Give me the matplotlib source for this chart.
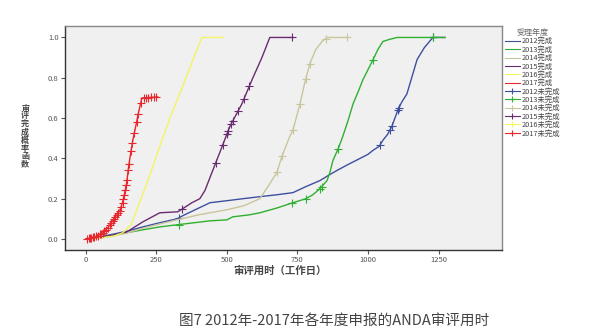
import numpy as np
import matplotlib
matplotlib.use('Agg')
import matplotlib.pyplot as plt
from matplotlib.lines import Line2D

plt.rcParams['font.family'] = ['Noto Sans CJK SC', 'DejaVu Sans']

years = ['2012', '2013', '2014', '2015', '2016', '2017']
colors = ['#3d4f9f', '#2fb02f', '#c9c59c', '#6a2c70', '#f2f562', '#e8262e']

# KM curves (days, completion probability)
days_2012 = [0, 50, 100, 150, 202, 260, 323, 350, 380, 410, 440, 500, 557, 617, 680, 734, 780, 830,
             865, 890, 930, 972, 1000, 1018, 1040, 1053, 1070, 1085, 1106, 1120, 1138, 1155, 1174, 1200, 1230, 1273]
prob_2012 = [0, 0.01, 0.025, 0.04, 0.06, 0.08, 0.10, 0.12, 0.14, 0.16, 0.18, 0.19, 0.20, 0.21, 0.22, 0.23, 0.26, 0.29,
             0.32, 0.34, 0.37, 0.40, 0.42, 0.44, 0.46, 0.49, 0.52, 0.56, 0.64, 0.68, 0.72, 0.80, 0.89, 0.95, 1.0, 1.0]
cens_2012 = [330, 1043, 1078, 1085, 1106, 1110, 1232]

days_2013 = [0, 60, 120, 200, 262, 320, 380, 440, 500, 521, 580, 617, 680, 734, 780, 805, 830, 855, 865,
             876, 895, 911, 930, 947, 965, 982, 1000, 1018, 1035, 1053, 1075, 1103, 1273]
prob_2013 = [0, 0.01, 0.025, 0.045, 0.06, 0.07, 0.08, 0.09, 0.095, 0.11, 0.12, 0.13, 0.155, 0.18, 0.20, 0.22, 0.25,
             0.29, 0.33, 0.39, 0.45, 0.51, 0.59, 0.67, 0.73, 0.79, 0.84, 0.89, 0.94, 0.98, 0.99, 1.0, 1.0]
cens_2013 = [330, 730, 780, 830, 836, 894, 1018, 1232]

days_2014 = [0, 80, 145, 220, 323, 400, 500, 560, 617, 650, 677, 695, 723, 734, 759, 775, 794, 815, 837, 855, 929]
prob_2014 = [0, 0.01, 0.03, 0.06, 0.095, 0.12, 0.145, 0.165, 0.20, 0.27, 0.33, 0.41, 0.51, 0.54, 0.67, 0.77,
             0.87, 0.94, 0.98, 1.0, 1.0]
cens_2014 = [677, 695, 734, 759, 780, 794, 850, 925]

days_2015 = [0, 50, 100, 145, 202, 262, 326, 376, 404, 422, 447, 475, 511, 553, 589, 624, 652, 734]
prob_2015 = [0, 0.01, 0.02, 0.035, 0.085, 0.13, 0.135, 0.18, 0.20, 0.24, 0.33, 0.43, 0.56, 0.67, 0.79, 0.90, 1.0, 1.0]
cens_2015 = [340, 460, 485, 500, 505, 515, 520, 540, 560, 580, 730]

days_2016 = [0, 50, 100, 130, 160, 190, 220, 252, 298, 344, 380, 411, 486]
prob_2016 = [0, 0.005, 0.015, 0.03, 0.07, 0.18, 0.29, 0.42, 0.60, 0.76, 0.89, 1.0, 1.0]
cens_2016 = []

days_2017 = [0, 20, 40, 60, 80, 100, 120, 130, 138, 145, 149, 156, 163, 168, 174, 180, 184, 192, 199, 255]
prob_2017 = [0, 0.005, 0.015, 0.03, 0.06, 0.10, 0.14, 0.18, 0.23, 0.28, 0.33, 0.40, 0.46, 0.50, 0.54, 0.58,
             0.61, 0.66, 0.70, 0.705]
cens_2017 = [5, 10, 15, 20, 25, 30, 35, 42, 50, 55, 60, 65, 70, 78, 85, 90, 95, 100, 105, 110, 115, 120, 125,
             130, 133, 136, 140, 143, 146, 150, 153, 160, 165, 172, 180, 186, 195, 205, 212, 220, 230, 240, 250]

all_days = [days_2012, days_2013, days_2014, days_2015, days_2016, days_2017]
all_prob = [prob_2012, prob_2013, prob_2014, prob_2015, prob_2016, prob_2017]
all_cens = [cens_2012, cens_2013, cens_2014, cens_2015, cens_2016, cens_2017]

fig = plt.figure(figsize=(6.07, 3.33), dpi=100)
ax = fig.add_axes([0.107, 0.249, 0.72, 0.673])
ax.set_facecolor('#f0f0f0')

for d, p, c, col in zip(all_days, all_prob, all_cens, colors):
    ax.plot(d, p, color=col, lw=1.0)
    if c:
        ax.plot(c, np.interp(c, d, p), ls='none', marker='+', ms=6, mew=0.8, color=col)

ax.set_xlim(-74, 1475)
ax.set_ylim(-0.055, 1.057)
ax.set_xticks([0, 250, 500, 750, 1000, 1250])
ax.set_yticks([0.0, 0.2, 0.4, 0.6, 0.8, 1.0])
ax.set_yticklabels(['0.0', '0.2', '0.4', '0.6', '0.8', '1.0'])
ax.tick_params(labelsize=5.5, colors='#555555', length=3, width=0.8, pad=1.5)
for s in ax.spines.values():
    s.set_color('#888888')
    s.set_linewidth(1.0)
ax.spines['left'].set_color('#333333')
ax.spines['bottom'].set_color('#333333')

# vertical stacked y label
ylab = '审评完成概率函数'
for i, ch in enumerate(ylab):
    fig.text(25 / 607, 1 - (108 + i * 8) / 333, ch, ha='center', va='center',
             fontsize=5.8, fontweight='bold', color='#444444')
fig.text(280 / 607, 1 - 271 / 333, '审评用时（工作日）', ha='center', va='center',
         fontsize=7.5, fontweight='bold', color='#444444')
fig.text(334 / 607, 1 - 321 / 333, '图7 2012年-2017年各年度申报的ANDA审评用时', ha='center', va='center',
         fontsize=10.5, color='#444444')

handles = []
labels = []
for y, col in zip(years, colors):
    handles.append(Line2D([], [], color=col, lw=0.8))
    labels.append(y + '完成')
for y, col in zip(years, colors):
    handles.append(Line2D([], [], color=col, lw=0.8, marker='+', ms=4, mew=0.8))
    labels.append(y + '未完成')
leg = fig.legend(handles, labels, title='受理年度', loc='upper left', bbox_to_anchor=(505 / 607, 1 - 28 / 333),
                 frameon=False, fontsize=5.3, title_fontsize=5.8, labelspacing=0.05, handlelength=2.0,
                 handletextpad=0.3, borderaxespad=0, borderpad=0)
for t in leg.get_texts():
    t.set_color('#444444')
leg.get_title().set_color('#666666')

fig.savefig('out.png', dpi=100, facecolor='white')
